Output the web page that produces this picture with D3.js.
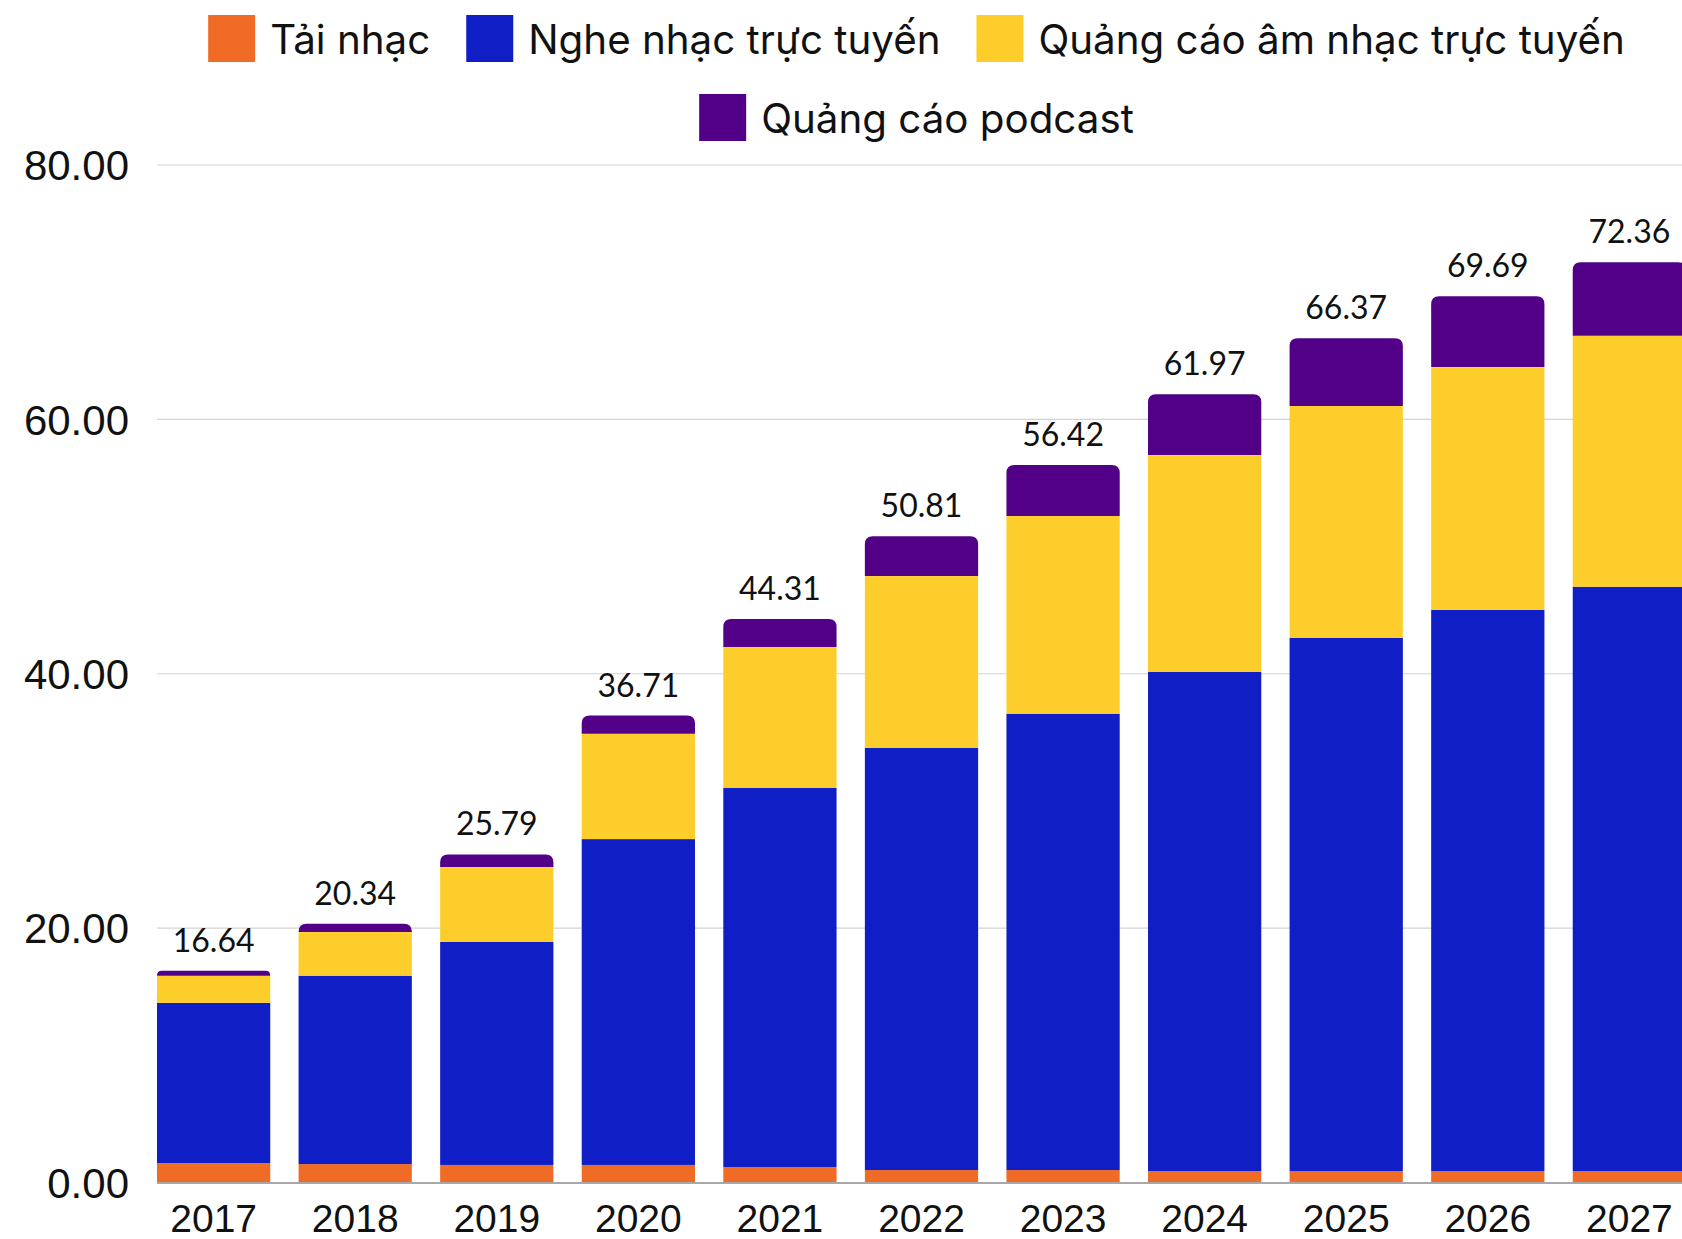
<!DOCTYPE html>
<html lang="vi">
<head>
<meta charset="utf-8">
<script src="https://cdn.jsdelivr.net/npm/d3@7"></script>
<style>
  html, body { margin: 0; padding: 0; background: #ffffff; overflow: hidden; }
  svg { display: block; }
</style>
</head>
<body>
<svg id="chart" width="1682" height="1239"></svg>
<script>
// Doanh thu âm nhạc số theo năm, chia theo nguồn
const years = ["2017", "2018", "2019", "2020", "2021", "2022", "2023", "2024", "2025", "2026", "2027"];
const seriesNames = ["Tải nhạc", "Nghe nhạc trực tuyến", "Quảng cáo âm nhạc trực tuyến", "Quảng cáo podcast"];
const seriesColors = ["#F06C26", "#101EC5", "#FDCE2B", "#510087"];

const downloads = [1.53, 1.45, 1.38, 1.38, 1.22, 0.98, 0.98, 0.90, 0.90, 0.90, 0.90];
const streaming = [12.60, 14.81, 17.53, 25.62, 29.82, 33.20, 35.88, 39.26, 41.93, 44.13, 45.94];
const musicAds = [2.13, 3.43, 5.89, 8.28, 11.06, 13.50, 15.54, 17.03, 18.22, 19.08, 19.73];
const podcastAds = [0.38, 0.65, 0.99, 1.43, 2.21, 3.13, 4.02, 4.78, 5.32, 5.58, 5.79];

const yTicks = [0, 20, 40, 60, 80];

const svg = d3.select("#chart");
const plot = { left: 157, right: 1686, top: 165, bottom: 1182.5 };

const rows = years.map((yr, i) => ({
  year: yr,
  [seriesNames[0]]: downloads[i],
  [seriesNames[1]]: streaming[i],
  [seriesNames[2]]: musicAds[i],
  [seriesNames[3]]: podcastAds[i]
}));

const stack = d3.stack().keys(seriesNames);
const layers = stack(rows);

const x = d3.scaleBand().domain(years).range([plot.left, plot.right]).paddingInner(0.2).paddingOuter(0);
const y = d3.scaleLinear().domain([0, 80]).range([plot.bottom, plot.top]);
const color = d3.scaleOrdinal().domain(seriesNames).range(seriesColors);

// Gridlines
svg.append("g")
  .selectAll("line")
  .data(yTicks.filter(t => t > 0))
  .join("line")
  .attr("x1", plot.left).attr("x2", plot.right)
  .attr("y1", d => y(d)).attr("y2", d => y(d))
  .attr("stroke", "#d3d3d3").attr("stroke-width", 1.2);

// Y axis labels
const yAxis = d3.axisLeft(y).tickValues(yTicks).tickFormat(d3.format(".2f")).tickSize(0).tickPadding(0);
const yg = svg.append("g").attr("transform", `translate(129,0)`).call(yAxis);
yg.select(".domain").remove();
yg.selectAll("text")
  .attr("font-family", "'Liberation Sans', Arial, sans-serif")
  .attr("font-size", 42).attr("fill", "#111").attr("dy", "0.35em");

// Stacked bars; top segment gets rounded upper corners
const r = 8;
function topRounded(x0, y0, w, h) {
  const rr = Math.min(r, h, w / 2);
  return `M${x0},${y0 + h}V${y0 + rr}Q${x0},${y0} ${x0 + rr},${y0}H${x0 + w - rr}Q${x0 + w},${y0} ${x0 + w},${y0 + rr}V${y0 + h}Z`;
}

const lastKey = seriesNames[seriesNames.length - 1];
svg.append("g")
  .selectAll("g")
  .data(layers)
  .join("g")
  .attr("fill", d => color(d.key))
  .each(function (layer) {
    const g = d3.select(this);
    if (layer.key === lastKey) {
      g.selectAll("path").data(layer).join("path")
        .attr("d", d => topRounded(x(d.data.year), y(d[1]), x.bandwidth(), y(d[0]) - y(d[1])));
    } else {
      g.selectAll("rect").data(layer).join("rect")
        .attr("x", d => x(d.data.year))
        .attr("y", d => y(d[1]))
        .attr("width", x.bandwidth())
        .attr("height", d => y(d[0]) - y(d[1]));
    }
  });

// Baseline
svg.append("line")
  .attr("x1", plot.left).attr("x2", plot.right)
  .attr("y1", y(0) + 0.5).attr("y2", y(0) + 0.5)
  .attr("stroke", "#a8a8a8").attr("stroke-width", 2);

// X axis labels
const xAxis = d3.axisBottom(x).tickSize(0).tickPadding(0);
const xg = svg.append("g").attr("transform", `translate(0,${y(0)})`).call(xAxis);
xg.select(".domain").remove();
xg.selectAll("text")
  .attr("font-family", "'Liberation Sans', Arial, sans-serif")
  .attr("font-size", 39).attr("fill", "#111")
  .attr("y", 49).attr("dy", 0);

// Totals above bars
const totals = layers[layers.length - 1];
svg.append("g")
  .selectAll("text")
  .data(totals)
  .join("text")
  .attr("x", d => x(d.data.year) + x.bandwidth() / 2)
  .attr("y", d => y(d[1]) - 19)
  .attr("text-anchor", "middle")
  .attr("font-family", "Lato, sans-serif")
  .attr("font-size", 32).attr("fill", "#111")
  .text(d => d[1].toFixed(2));

// Legend, wrapped into centred rows
const legend = svg.append("g");
const sw = 47, gapText = 15, gapItem = 36, rowH = 79, maxRow = 1500, centerX = 916.5;
const items = seriesNames.map(name => {
  const g = legend.append("g");
  g.append("rect").attr("width", sw).attr("height", sw).attr("fill", color(name));
  const t = g.append("text")
    .attr("x", sw + gapText).attr("y", 38.5)
    .attr("font-family", "Inter, 'Open Sans', sans-serif")
    .attr("font-size", 40.3).attr("fill", "#111")
    .text(name);
  const w = sw + gapText + t.node().getComputedTextLength();
  return { g, w };
});
const legendRows = [];
let cur = [], curW = 0;
items.forEach(it => {
  const add = cur.length ? gapItem + it.w : it.w;
  if (cur.length && curW + add > maxRow) { legendRows.push({ items: cur, w: curW }); cur = [it]; curW = it.w; }
  else { cur.push(it); curW += add; }
});
if (cur.length) legendRows.push({ items: cur, w: curW });
legendRows.forEach((row, ri) => {
  let xx = centerX - row.w / 2;
  row.items.forEach(it => {
    it.g.attr("transform", `translate(${xx},${15 + ri * rowH})`);
    xx += it.w + gapItem;
  });
});
</script>
</body>
</html>
